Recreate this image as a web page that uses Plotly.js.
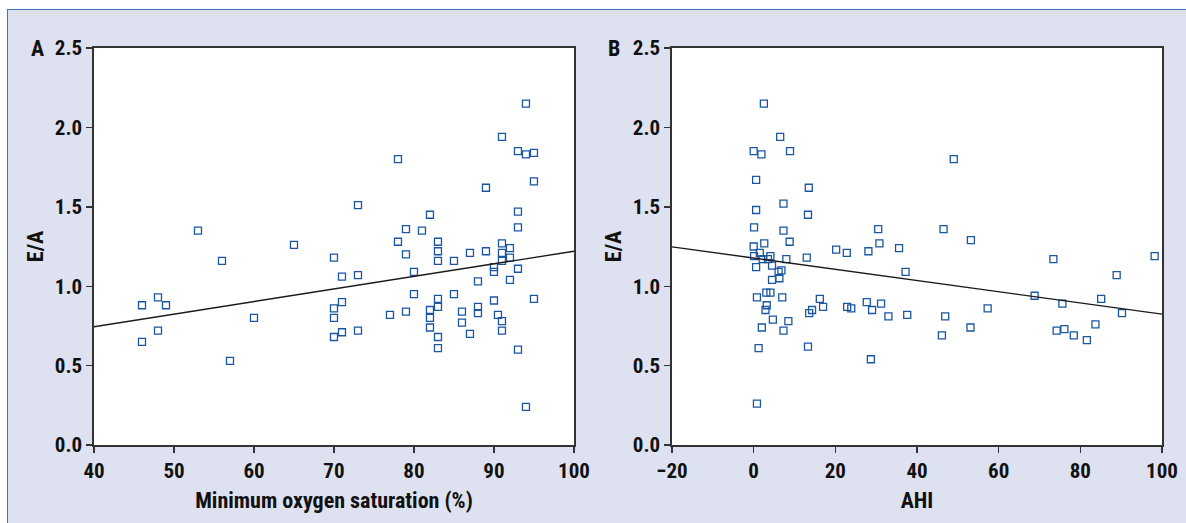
<!DOCTYPE html>
<html>
<head>
<meta charset="utf-8">
<script src="https://cdn.plot.ly/plotly-3.0.1.min.js"></script>
<style>
  html, body { margin: 0; padding: 0; background: #ffffff; width: 1186px; height: 523px; overflow: hidden; }
  #frame { position: absolute; left: 7px; top: 9px; width: 1179px; height: 514px; border-top: 1.5px solid #3d74b4; border-left: 1.5px solid #3d74b4; box-sizing: border-box; }
  #plot { position: absolute; left: 8px; top: 10px; width: 1178px; height: 513px; }
</style>
</head>
<body>
<div id="frame"></div>
<div id="plot"></div>
<script>
// Panel A: minimum oxygen saturation (%) vs E/A
const satA = [53, 56, 65, 48, 46, 49, 60, 48, 46, 57,
  78, 73, 82, 79, 81, 78, 83, 83, 79, 70, 83, 85, 71, 73, 80, 80, 85, 83, 83, 71, 70, 70, 77, 79, 82, 82, 82, 70, 71, 73, 83, 83,
  94, 91, 93, 94, 95, 89, 95, 93, 93, 91, 92, 87, 89, 91, 92, 91, 90, 90, 93, 92, 88, 90, 95, 86, 88, 88, 90.5, 91, 86, 87, 91, 93, 94];
const eaA = [1.35, 1.16, 1.26, 0.93, 0.88, 0.88, 0.80, 0.72, 0.65, 0.53,
  1.80, 1.51, 1.45, 1.36, 1.35, 1.28, 1.28, 1.22, 1.20, 1.18, 1.16, 1.16, 1.06, 1.07, 1.09, 0.95, 0.95, 0.92, 0.87, 0.90, 0.86, 0.80, 0.82, 0.84, 0.85, 0.80, 0.74, 0.68, 0.71, 0.72, 0.68, 0.61,
  2.15, 1.94, 1.85, 1.83, 1.84, 1.62, 1.66, 1.47, 1.37, 1.27, 1.24, 1.21, 1.22, 1.21, 1.18, 1.16, 1.12, 1.09, 1.11, 1.04, 1.03, 0.91, 0.92, 0.84, 0.87, 0.83, 0.82, 0.78, 0.77, 0.70, 0.72, 0.60, 0.24];
const fitA_x = [40, 100];
const fitA_y = [0.745, 1.22];

// Panel B: AHI vs E/A
const ahiB = [2.5, 6.5, 0, 1.9, 8.9, 0.6, 13.5, 7.3, 0.6, 13.3, 0.1, 7.3, 2.6, 8.8, 0, 20.2, 1.5, 0.1, 4.1, 2.2, 3.5, 13, 8, 0.6, 4.5, 6.8, 6.1, 6.3, 4.5, 0.8, 3.1, 4.1, 7, 16.2, 3.2, 2.9, 17, 13.6, 14.3, 22.9, 23.9, 4.7, 8.5, 2.0, 7.3, 1.2, 13.3, 0.8,
  49, 30.5, 46.5, 53.2, 30.8, 22.8, 28.1, 35.6, 37.2, 27.7, 29, 31.2, 33, 37.6, 46.9, 57.3, 53.1, 46.1, 28.7,
  73.4, 98.2, 88.9, 68.8, 75.6, 85.1, 90.2, 83.7, 74.2, 76.1, 78.4, 81.6];
const eaB = [2.15, 1.94, 1.85, 1.83, 1.85, 1.67, 1.62, 1.52, 1.48, 1.45, 1.37, 1.35, 1.27, 1.28, 1.25, 1.23, 1.21, 1.19, 1.19, 1.17, 1.17, 1.18, 1.17, 1.12, 1.13, 1.10, 1.09, 1.05, 1.04, 0.93, 0.96, 0.96, 0.93, 0.92, 0.88, 0.85, 0.87, 0.83, 0.85, 0.87, 0.86, 0.79, 0.78, 0.74, 0.72, 0.61, 0.62, 0.26,
  1.80, 1.36, 1.36, 1.29, 1.27, 1.21, 1.22, 1.24, 1.09, 0.90, 0.85, 0.89, 0.81, 0.82, 0.81, 0.86, 0.74, 0.69, 0.54,
  1.17, 1.19, 1.07, 0.94, 0.89, 0.92, 0.83, 0.76, 0.72, 0.73, 0.69, 0.66];
const fitB_x = [-20, 100];
const fitB_y = [1.248, 0.824];

const yTicks = [0, 0.5, 1.0, 1.5, 2.0, 2.5];
const yTickText = ['0.0', '0.5', '1.0', '1.5', '2.0', '2.5'];
const xTicksA = [40, 50, 60, 70, 80, 90, 100];
const xTicksB = [-20, 0, 20, 40, 60, 80, 100];

const FONT = '"Roboto Condensed", "Liberation Sans Narrow", "DejaVu Sans Condensed", sans-serif';
const markerStyle = { symbol: 'square-open', size: 7, color: '#1b56a2', line: { width: 1.3, color: '#1b56a2' } };

const traces = [
  { x: satA, y: eaA, type: 'scatter', mode: 'markers', marker: markerStyle, xaxis: 'x', yaxis: 'y' },
  { x: fitA_x, y: fitA_y, type: 'scatter', mode: 'lines', line: { color: '#1a1a1a', width: 1.4 }, xaxis: 'x', yaxis: 'y' },
  { x: ahiB, y: eaB, type: 'scatter', mode: 'markers', marker: markerStyle, xaxis: 'x2', yaxis: 'y2' },
  { x: fitB_x, y: fitB_y, type: 'scatter', mode: 'lines', line: { color: '#1a1a1a', width: 1.4 }, xaxis: 'x2', yaxis: 'y2' }
];

const tickFont = { family: FONT, size: 21, color: '#111111', weight: 700 };
const titleFont = { family: FONT, size: 22, color: '#111111', weight: 700 };

function xAxis(domain, range, ticks, title, anchor) {
  return {
    domain: domain, range: range, tickmode: 'array', tickvals: ticks,
    showgrid: false, zeroline: false, showline: true, linecolor: '#333333', linewidth: 1.6, mirror: true,
    ticks: 'outside', ticklen: 6, tickwidth: 1.4, tickcolor: '#333333',
    tickfont: tickFont, anchor: anchor,
    title: { text: title, font: titleFont, standoff: 11 }
  };
}
function yAxis(anchor) {
  return {
    domain: [0, 1], range: [0, 2.5], tickmode: 'array', tickvals: yTicks, ticktext: yTickText,
    showgrid: false, zeroline: false, showline: true, linecolor: '#333333', linewidth: 1.6, mirror: true,
    ticks: 'outside', ticklen: 6, tickwidth: 1.4, tickcolor: '#333333',
    tickfont: tickFont, anchor: anchor,
    title: { text: 'E/A', font: titleFont, standoff: 5 }
  };
}

const layout = {
  width: 1178, height: 513,
  margin: { l: 86, r: 24, t: 38, b: 78 },
  paper_bgcolor: '#dee1ef',
  plot_bgcolor: '#ffffff',
  showlegend: false,
  xaxis: xAxis([0, 0.4494], [40, 100], xTicksA, 'Minimum oxygen saturation (%)', 'y'),
  yaxis: yAxis('x'),
  xaxis2: xAxis([0.5412, 1], [-20, 100], xTicksB, 'AHI', 'y2'),
  yaxis2: yAxis('x2'),
  annotations: [
    { text: 'A', xref: 'paper', yref: 'paper', x: -0.0525, y: 1.0, xanchor: 'center', yanchor: 'middle', showarrow: false, font: { family: FONT, size: 22, color: '#111111', weight: 700 } },
    { text: 'B', xref: 'paper', yref: 'paper', x: 0.4869, y: 1.0, xanchor: 'center', yanchor: 'middle', showarrow: false, font: { family: FONT, size: 22, color: '#111111', weight: 700 } }
  ]
};

Plotly.newPlot('plot', traces, layout, { displayModeBar: false, staticPlot: true });
</script>
</body>
</html>
